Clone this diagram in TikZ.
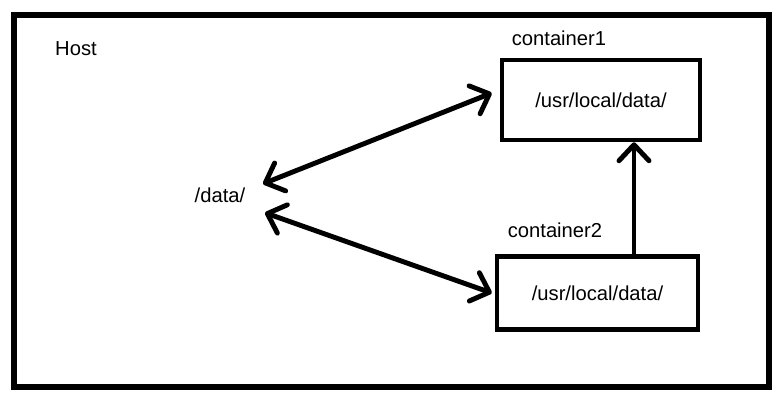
\documentclass[tikz,border=0pt]{standalone}
\usepackage{fontspec}
\setmainfont{Liberation Sans}
\usetikzlibrary{arrows.meta}
\begin{document}
\begin{tikzpicture}[x=0.02cm, y=-0.02cm,
  font=\fontsize{11.5}{14}\selectfont,
  dirbox/.style={draw, line width=2.6pt, minimum width=3.96cm, minimum height=1.6cm},
  link/.style={line width=2.8pt, line cap=round,
    {Straight Barb[length=3.2mm,width=6mm,round]}-{Straight Barb[length=3.2mm,width=6mm,round]}},
  uplink/.style={line width=2.8pt, -{Straight Barb[length=3.2mm,width=6mm,round]}}]
  \useasboundingbox (0,0) rectangle (781,400);
  \draw[line width=2.9pt] (14,15) rectangle (769,387);
  \node[anchor=base] (host) at (76,55) {Host};
  \node[dirbox] (box1) at (601,100) {/usr/local/data/};
  \node[dirbox, minimum width=4.02cm, minimum height=1.46cm] (box2) at (597.5,293) {/usr/local/data/};
  \node[anchor=base] (name1) at (559,45) {container1};
  \node[anchor=base] (name2) at (555,237) {container2};
  \node[anchor=base] (data) at (220,202) {/data/};
  \coordinate (data-a) at ([shift={(43,-11)}]data.center);
  \coordinate (data-b) at ([shift={(45,18)}]data.center);
  \draw[link] (data-a) -- ([shift={(-8,-7)}]box1.west);
  \draw[link] (data-b) -- ([shift={(-3,0)}]box2.west);
  \draw[uplink] ([xshift=0.73cm]box2.north) coordinate (up) -- (up |- box1.south);
\end{tikzpicture}
\end{document}
